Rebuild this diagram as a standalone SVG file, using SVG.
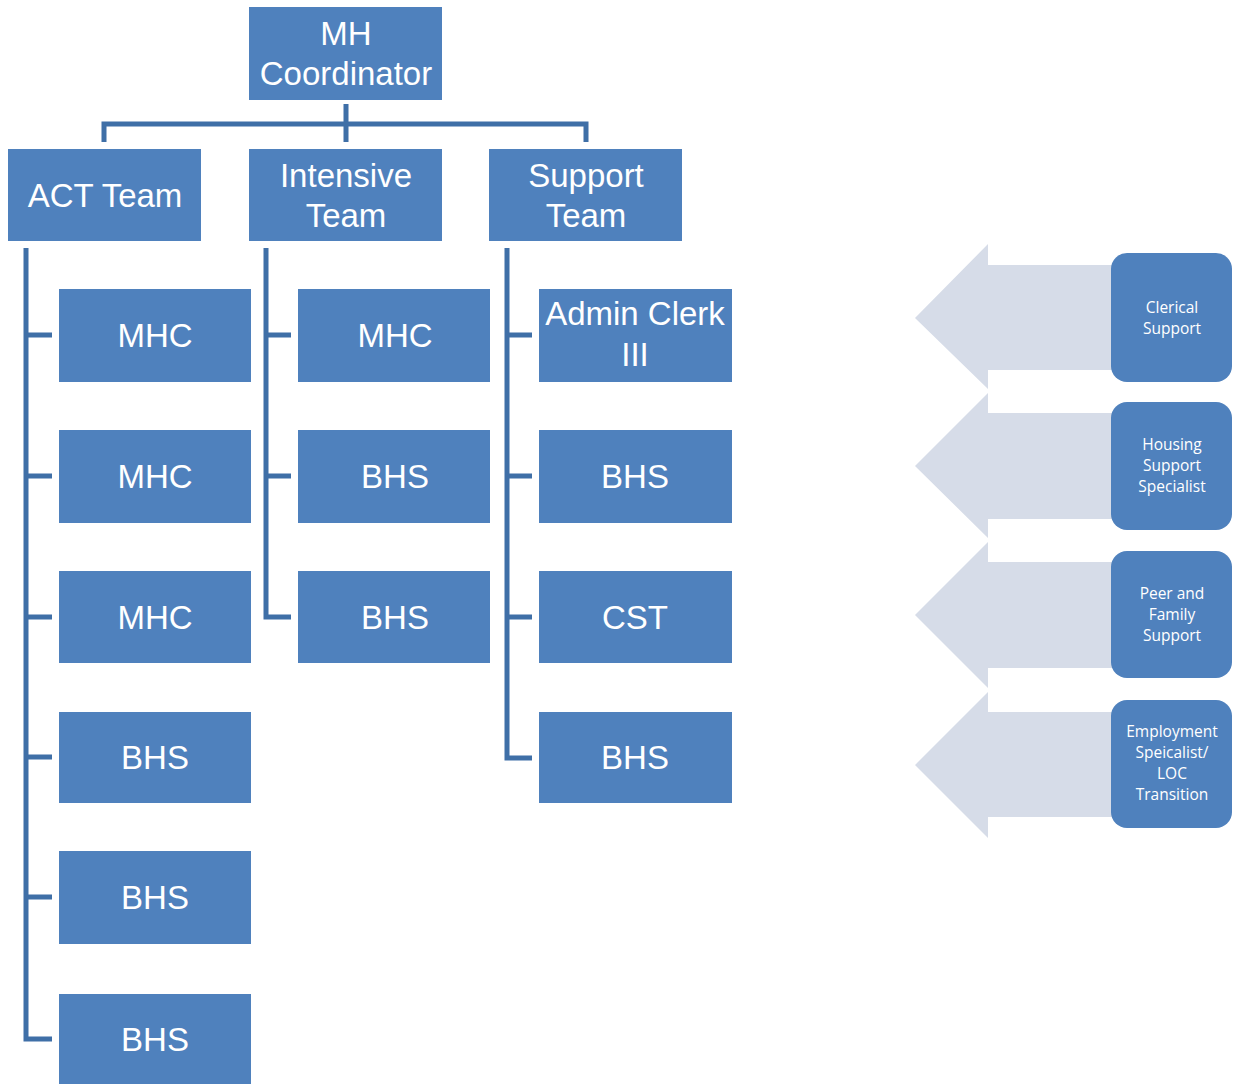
<svg xmlns="http://www.w3.org/2000/svg" width="1239" height="1084" viewBox="0 0 1239 1084">
<style>
.box{fill:#4f81bd}
.t{font-family:"Liberation Sans",Arial,sans-serif;font-size:33px;fill:#fff;text-anchor:middle}
.s{font-family:"Open Sans","Liberation Sans",sans-serif;font-size:15.5px;fill:#fff;text-anchor:middle}
.ln{fill:none;stroke:#3f6fa7;stroke-width:5}
.arr{fill:#d6dce8}
.rb{fill:#4f81bd}
</style>
<rect width="1239" height="1084" fill="#fff"/>
<g id="connectors">
<path class="ln" d="M346,104V124M104,142V124H586V142M346,124V142"/>
<path class="ln" d="M26,248V1039H52M26,335H52M26,476H52M26,617H52M26,757H52M26,897H52"/>
<path class="ln" d="M266,248V617H291M266,335H291M266,476H291"/>
<path class="ln" d="M507,248V758H532M507,335H532M507,476H532M507,617H532"/>
</g>
<g id="arrows">
<polygon class="arr" points="1112,265 988,265 988,244 915,318 988,389 988,370 1112,370"/>
<polygon class="arr" points="1112,413 988,413 988,393 915,466 988,538 988,519 1112,519"/>
<polygon class="arr" points="1112,562 988,562 988,542 915,615 988,688 988,668 1112,668"/>
<polygon class="arr" points="1112,712 988,712 988,692 915,765 988,838 988,817 1112,817"/>
</g>
<g id="mh-coordinator"><rect class="box" x="249" y="7" width="193" height="93"/><text class="t" x="346" y="45">MH</text><text class="t" x="346" y="85">Coordinator</text></g>
<g id="act-team"><rect class="box" x="8" y="149" width="193" height="92"/><text class="t" x="105" y="207">ACT Team</text></g>
<g id="intensive-team"><rect class="box" x="249" y="149" width="193" height="92"/><text class="t" x="346" y="187">Intensive</text><text class="t" x="346" y="227">Team</text></g>
<g id="support-team"><rect class="box" x="489" y="149" width="193" height="92"/><text class="t" x="586" y="187">Support</text><text class="t" x="586" y="227">Team</text></g>
<g id="act-mhc1"><rect class="box" x="59" y="289" width="192" height="93"/><text class="t" x="155" y="347">MHC</text></g>
<g id="act-mhc2"><rect class="box" x="59" y="430" width="192" height="93"/><text class="t" x="155" y="488">MHC</text></g>
<g id="act-mhc3"><rect class="box" x="59" y="571" width="192" height="92"/><text class="t" x="155" y="629">MHC</text></g>
<g id="act-bhs1"><rect class="box" x="59" y="712" width="192" height="91"/><text class="t" x="155" y="769">BHS</text></g>
<g id="act-bhs2"><rect class="box" x="59" y="851" width="192" height="93"/><text class="t" x="155" y="909">BHS</text></g>
<g id="act-bhs3"><rect class="box" x="59" y="994" width="192" height="92"/><text class="t" x="155" y="1051">BHS</text></g>
<g id="int-mhc"><rect class="box" x="298" y="289" width="192" height="93"/><text class="t" x="395" y="347">MHC</text></g>
<g id="int-bhs1"><rect class="box" x="298" y="430" width="192" height="93"/><text class="t" x="395" y="488">BHS</text></g>
<g id="int-bhs2"><rect class="box" x="298" y="571" width="192" height="92"/><text class="t" x="395" y="629">BHS</text></g>
<g id="sup-admin"><rect class="box" x="539" y="289" width="193" height="93"/><text class="t" x="635" y="325">Admin Clerk</text><text class="t" x="635" y="366">III</text></g>
<g id="sup-bhs1"><rect class="box" x="539" y="430" width="193" height="93"/><text class="t" x="635" y="488">BHS</text></g>
<g id="sup-cst"><rect class="box" x="539" y="571" width="193" height="92"/><text class="t" x="635" y="629">CST</text></g>
<g id="sup-bhs2"><rect class="box" x="539" y="712" width="193" height="91"/><text class="t" x="635" y="769">BHS</text></g>
<g id="clerical"><rect class="rb" x="1111" y="253" width="121" height="129" rx="16"/><text class="s" x="1172" y="313">Clerical</text><text class="s" x="1172" y="334">Support</text></g>
<g id="housing"><rect class="rb" x="1111" y="402" width="121" height="128" rx="16"/><text class="s" x="1172" y="450">Housing</text><text class="s" x="1172" y="471">Support</text><text class="s" x="1172" y="492">Specialist</text></g>
<g id="peer"><rect class="rb" x="1111" y="551" width="121" height="127" rx="16"/><text class="s" x="1172" y="599">Peer and</text><text class="s" x="1172" y="620">Family</text><text class="s" x="1172" y="641">Support</text></g>
<g id="employment"><rect class="rb" x="1111" y="700" width="121" height="128" rx="16"/><text class="s" x="1172" y="737">Employment</text><text class="s" x="1172" y="758">Speicalist/</text><text class="s" x="1172" y="779">LOC</text><text class="s" x="1172" y="800">Transition</text></g>
</svg>
